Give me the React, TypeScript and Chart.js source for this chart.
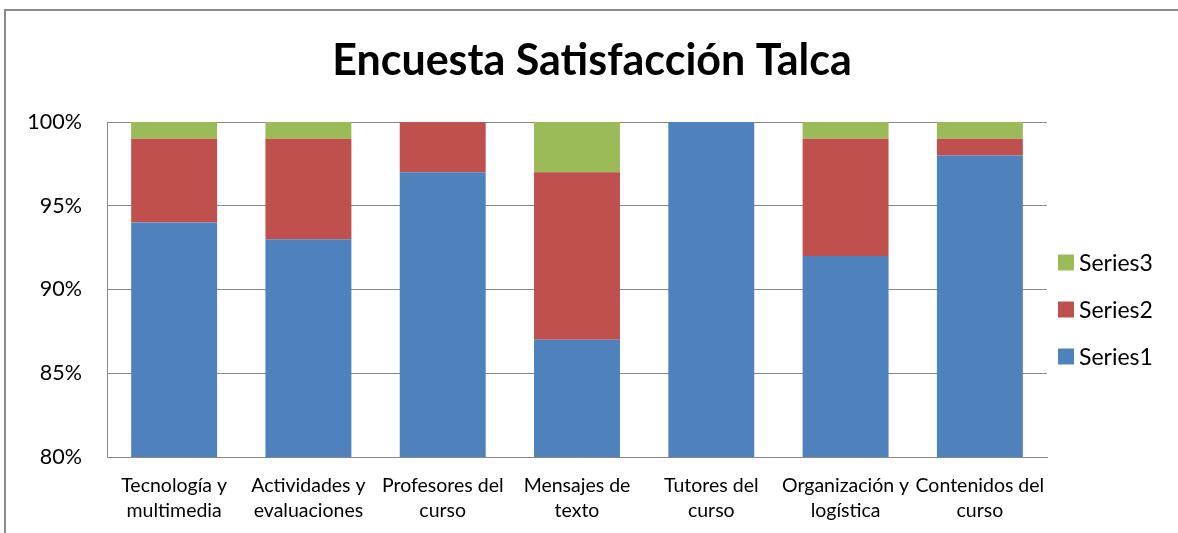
import React, { useEffect, useRef } from "react";
import { Chart, registerables } from "chart.js";

Chart.register(...registerables);

const categories: string[][] = [
  ["Tecnología y", "multimedia"],
  ["Actividades y", "evaluaciones"],
  ["Profesores del", "curso"],
  ["Mensajes de", "texto"],
  ["Tutores del", "curso"],
  ["Organización y", "logística"],
  ["Contenidos del", "curso"],
];
const series1: number[] = [94, 93, 97, 87, 100, 92, 98];
const series2: number[] = [5, 6, 3, 10, 0, 7, 1];
const series3: number[] = [1, 1, 0, 3, 0, 1, 1];
const seriesNames: string[] = ["Series1", "Series2", "Series3"];
const yTicks: number[] = [80, 85, 90, 95, 100];
const titleText = "Encuesta Satisfacción Talca";

const FONT = "Lato, 'Open Sans', sans-serif";

const titlePlugin = {
  id: "customTitle",
  afterDraw(chart: any) {
    const { ctx, width } = chart;
    ctx.save();
    ctx.font = `bold 43px ${FONT}`;
    ctx.fillStyle = "#000";
    ctx.textAlign = "center";
    ctx.textBaseline = "alphabetic";
    ctx.fillText(titleText, (width + 6) / 2, 75);
    ctx.restore();
  },
};

const legendPlugin = {
  id: "customLegend",
  afterDraw(chart: any) {
    const { ctx, chartArea } = chart;
    const ds = chart.data.datasets.slice().reverse();
    const x0 = chartArea.right + 11;
    const midY = (chartArea.top + chartArea.bottom) / 2 + 20;
    const gap = 47;
    const startY = midY - ((ds.length - 1) * gap) / 2;
    ctx.save();
    ctx.font = `23px ${FONT}`;
    ctx.textBaseline = "middle";
    ctx.textAlign = "left";
    ds.forEach((d: any, i: number) => {
      const cy = startY + i * gap;
      ctx.fillStyle = d.backgroundColor;
      ctx.fillRect(x0, cy - 8, 16, 16);
      ctx.fillStyle = "#000";
      ctx.fillText(d.label, x0 + 21, cy + 1);
    });
    ctx.restore();
  },
};

export default function App() {
  const ref = useRef<HTMLCanvasElement | null>(null);
  useEffect(() => {
    if (!ref.current) return;
    const chart = new Chart(ref.current, {
      type: "bar",
      data: {
        labels: categories,
        datasets: [
          { label: seriesNames[0], data: series1, backgroundColor: "#4F81BD" },
          { label: seriesNames[1], data: series2, backgroundColor: "#C0504D" },
          { label: seriesNames[2], data: series3, backgroundColor: "#9BBB59" },
        ],
      },
      options: {
        animation: false,
        responsive: false,
        maintainAspectRatio: false,
        layout: { padding: { left: 12, right: 131, top: 122, bottom: 0 } },
        datasets: { bar: { categoryPercentage: 1, barPercentage: 0.64 } },
        plugins: {
          legend: { display: false },
          tooltip: { enabled: false },
          title: { display: false },
        },
        scales: {
          x: {
            stacked: true,
            grid: { display: false, drawTicks: false },
            border: { display: true, color: "#888", width: 1 },
            afterFit: (s: any) => {
              s.height = 76;
            },
            ticks: {
              color: "#000",
              font: { family: FONT, size: 19.5, lineHeight: 1.24 },
              padding: 17,
              maxRotation: 0,
              autoSkip: false,
            },
          },
          y: {
            stacked: true,
            min: 80,
            max: 100,
            afterBuildTicks: (s: any) => {
              s.ticks = yTicks.map((v) => ({ value: v }));
            },
            afterFit: (s: any) => {
              s.width = 95;
            },
            grid: { color: "#888", lineWidth: 1, drawTicks: false },
            border: { display: true, color: "#888", width: 1 },
            ticks: {
              color: "#000",
              font: { family: FONT, size: 21.5 },
              padding: 25,
              callback: (v: any) => `${v}%`,
            },
          },
        },
      },
      plugins: [titlePlugin, legendPlugin],
    });
    return () => chart.destroy();
  }, []);

  return (
    <div style={{ position: "fixed", left: 0, top: 0, width: 1178, height: 533, overflow: "hidden", background: "#fff" }}>
      <div
        style={{
          position: "absolute",
          left: 4,
          top: 9,
          width: 1300,
          height: 700,
          border: "2px solid #8a8a8a",
          boxSizing: "border-box",
        }}
      />
      <canvas ref={ref} width={1178} height={533} style={{ position: "absolute", left: 0, top: 0 }} />
    </div>
  );
}
